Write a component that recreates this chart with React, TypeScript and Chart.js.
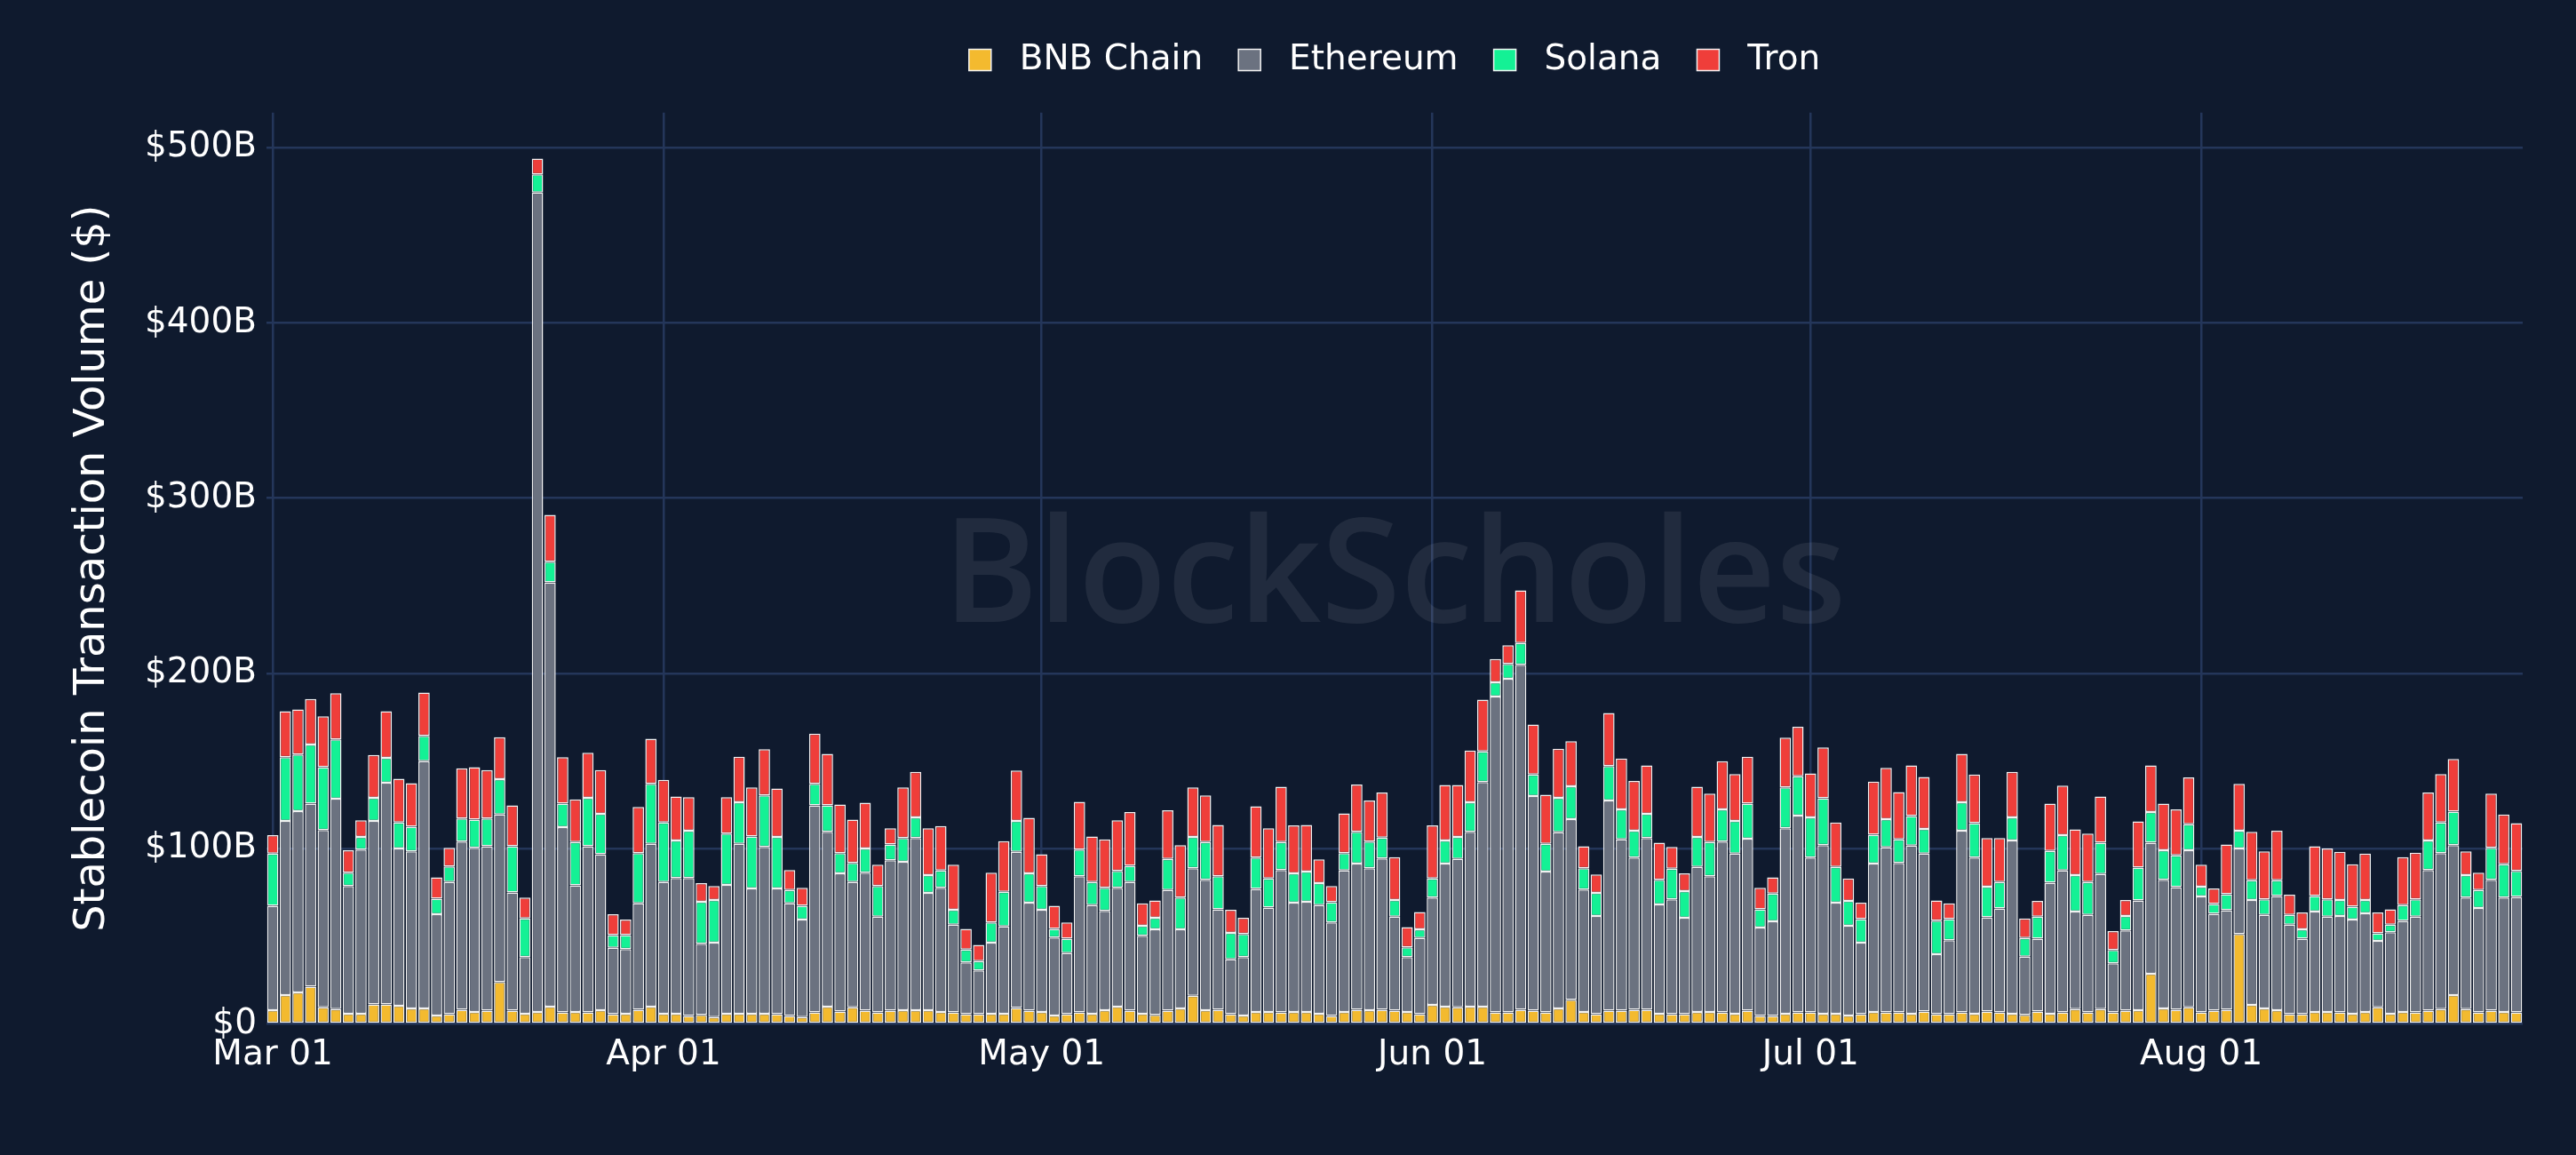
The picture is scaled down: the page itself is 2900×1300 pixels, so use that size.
import React, { useEffect, useRef } from 'react';
import { Chart, registerables } from 'chart.js';

Chart.register(...registerables);

// daily stablecoin transfer volume, $B, from Mar 01
const FIRST_DAY = Date.UTC(2025, 2, 1);
const MONTH_NAMES = ['Jan', 'Feb', 'Mar', 'Apr', 'May', 'Jun', 'Jul', 'Aug', 'Sep', 'Oct', 'Nov', 'Dec'];
const MONTH_TICKS = ['Mar 01', 'Apr 01', 'May 01', 'Jun 01', 'Jul 01', 'Aug 01'];
const Y_TICKS = [0, 100, 200, 300, 400, 500];

const bnb = [
  7.9, 16.5, 18.1, 21.4, 9.6, 8.6, 5.9, 5.9, 11.2, 11.2, 10.5, 8.9, 8.9, 4.9, 5.6, 8.2, 6.9, 7.6, 24.0, 7.6,
  5.9, 6.9, 9.9, 6.6, 6.9, 6.6, 7.9, 5.6, 5.9, 8.2, 9.9, 5.9, 5.9, 4.6, 5.3, 4.0, 5.9, 5.9, 5.9, 5.9,
  5.6, 4.6, 4.0, 6.6, 9.9, 7.2, 9.6, 7.6, 6.6, 7.6, 7.9, 7.9, 7.9, 6.9, 6.6, 5.6, 5.6, 5.9, 5.9, 9.2,
  7.6, 6.9, 4.9, 5.6, 6.6, 5.9, 7.9, 9.9, 7.6, 5.9, 5.3, 7.6, 8.9, 16.1, 7.9, 8.2, 5.6, 4.9, 6.9, 6.9,
  6.6, 6.9, 6.9, 5.9, 4.6, 6.9, 8.2, 7.9, 8.2, 7.6, 6.9, 5.6, 10.9, 9.9, 9.6, 9.9, 9.9, 6.6, 6.6, 8.2,
  7.6, 6.6, 8.9, 13.8, 6.9, 5.6, 7.6, 7.6, 8.2, 8.2, 5.9, 5.6, 5.6, 6.9, 6.9, 6.6, 5.9, 7.6, 4.6, 4.6,
  5.9, 6.6, 6.6, 5.9, 5.9, 4.9, 5.6, 6.9, 6.6, 6.6, 5.9, 7.2, 5.6, 5.6, 6.6, 5.9, 7.2, 6.6, 5.9, 5.3,
  7.2, 5.9, 6.6, 8.6, 6.6, 8.6, 6.6, 7.6, 7.9, 28.7, 8.9, 8.2, 9.6, 6.6, 7.6, 8.2, 51.4, 10.9, 8.9, 7.9,
  5.6, 5.6, 6.9, 6.9, 6.6, 5.9, 6.9, 9.6, 5.9, 6.9, 6.6, 7.6, 8.6, 16.5, 8.6, 6.6, 7.6, 6.9, 6.6,
];

const ethereum = [
  59.6, 99.4, 103.4, 104.4, 101.1, 119.9, 72.8, 93.6, 104.7, 126.5, 89.6, 89.6, 141.0, 57.7, 75.4, 95.9, 93.6, 93.8, 95.6, 67.5,
  32.3, 467.4, 242.1, 105.7, 72.2, 94.8, 88.9, 37.9, 36.9, 60.6, 92.9, 75.1, 77.4, 78.7, 40.5, 42.4, 73.5, 96.9, 71.5, 95.2,
  71.8, 64.2, 55.6, 118.2, 99.8, 78.8, 71.4, 78.7, 54.7, 85.9, 84.7, 98.2, 66.9, 70.8, 50.1, 29.6, 25.0, 40.5, 49.8, 89.0,
  61.6, 58.3, 44.5, 34.9, 77.7, 62.0, 56.7, 67.8, 73.4, 44.5, 48.7, 68.8, 45.1, 72.8, 74.4, 57.3, 31.3, 33.3, 70.2, 59.6,
  81.3, 62.3, 62.9, 62.0, 53.4, 80.7, 83.4, 81.0, 86.3, 53.7, 31.3, 43.5, 61.2, 81.7, 84.6, 99.8, 128.1, 180.2, 190.4, 196.7,
  122.5, 80.4, 100.5, 103.1, 69.8, 56.0, 119.9, 97.8, 86.7, 97.9, 62.3, 65.5, 55.0, 82.7, 77.4, 97.5, 91.3, 98.1, 50.4, 54.0,
  105.8, 112.3, 88.3, 96.2, 63.3, 51.1, 40.8, 84.7, 94.2, 85.3, 95.9, 90.0, 34.3, 42.2, 103.7, 89.0, 53.7, 59.3, 98.8, 33.2,
  41.5, 74.8, 81.0, 55.6, 55.7, 77.0, 28.0, 45.8, 62.6, 74.7, 73.4, 69.9, 89.5, 66.2, 55.3, 56.7, 48.7, 59.9, 53.4, 65.2,
  51.1, 43.1, 57.3, 54.4, 55.0, 53.7, 56.3, 37.8, 46.5, 52.0, 54.7, 80.3, 88.9, 85.6, 63.5, 59.6, 74.7, 65.2, 65.9,
];

const solana = [
  29.7, 36.3, 32.3, 33.6, 35.9, 33.9, 7.6, 7.2, 13.2, 14.1, 14.9, 14.1, 14.5, 8.9, 8.9, 13.2, 16.1, 15.9, 20.1, 26.3,
  22.1, 10.5, 11.8, 13.5, 24.7, 27.7, 23.1, 7.2, 7.9, 28.7, 34.2, 34.0, 21.4, 27.0, 24.0, 24.4, 29.3, 23.7, 29.6, 29.3,
  29.3, 7.6, 7.9, 12.2, 15.1, 11.5, 10.9, 13.8, 17.4, 8.9, 13.5, 11.8, 10.2, 9.9, 8.5, 7.3, 5.3, 11.6, 19.7, 17.7,
  16.8, 13.5, 4.9, 8.2, 15.2, 13.1, 13.1, 9.6, 9.3, 5.6, 6.6, 17.8, 18.1, 17.8, 21.5, 18.8, 15.1, 13.2, 17.8, 16.5,
  15.9, 16.8, 17.2, 12.5, 11.5, 9.9, 18.1, 15.2, 11.9, 9.5, 5.6, 4.9, 10.9, 13.1, 12.5, 16.8, 17.5, 8.2, 8.5, 12.5,
  12.2, 15.8, 19.7, 18.8, 12.2, 13.2, 19.7, 17.1, 15.4, 13.8, 14.1, 17.5, 15.2, 17.1, 19.5, 18.4, 18.7, 20.1, 10.5, 15.8,
  23.3, 22.4, 23.0, 26.7, 20.4, 14.2, 13.5, 16.4, 16.1, 13.5, 16.8, 14.1, 19.1, 12.1, 16.2, 19.7, 17.5, 15.1, 13.2, 10.6,
  12.6, 18.1, 20.1, 20.8, 18.7, 17.8, 7.6, 8.2, 18.8, 17.5, 16.8, 18.1, 14.9, 5.6, 5.6, 9.2, 10.2, 11.2, 8.8, 8.9,
  5.6, 5.3, 8.9, 9.8, 9.2, 7.3, 7.6, 4.3, 4.3, 9.0, 9.8, 16.8, 17.5, 19.1, 12.9, 10.2, 18.2, 19.1, 14.8,
];

const tron = [
  10.5, 26.3, 25.7, 26.0, 29.0, 26.3, 12.8, 9.6, 24.4, 26.7, 25.0, 24.8, 24.7, 12.2, 10.6, 28.6, 30.0, 27.6, 24.0, 23.4,
  11.8, 8.9, 26.7, 26.4, 24.3, 25.7, 25.0, 11.9, 8.9, 26.3, 25.7, 24.3, 25.1, 19.1, 10.6, 7.9, 20.7, 26.0, 28.0, 26.4,
  27.7, 11.5, 10.2, 28.7, 29.4, 27.7, 24.7, 26.1, 12.2, 9.3, 28.9, 26.0, 26.7, 25.4, 25.7, 11.8, 9.2, 28.3, 29.0, 28.7,
  31.6, 18.1, 13.2, 9.3, 27.3, 26.0, 27.7, 29.0, 30.6, 12.8, 9.9, 27.7, 30.0, 28.3, 26.6, 29.3, 13.2, 9.2, 29.3, 28.7,
  31.6, 27.3, 26.6, 13.5, 9.2, 22.7, 27.0, 23.4, 25.7, 24.4, 11.5, 9.9, 30.3, 31.7, 29.7, 29.6, 29.6, 13.2, 10.6, 30.0,
  28.6, 28.0, 28.0, 25.7, 12.5, 10.5, 30.3, 29.0, 28.4, 27.7, 21.1, 12.5, 10.2, 28.7, 27.6, 27.4, 26.7, 26.7, 12.2, 9.3,
  28.4, 28.3, 25.1, 29.0, 25.4, 12.8, 9.3, 30.3, 29.3, 27.0, 29.0, 29.7, 11.5, 8.9, 27.7, 27.7, 27.7, 25.1, 26.0, 11.2,
  8.9, 27.0, 28.3, 26.0, 27.7, 26.4, 10.8, 9.2, 26.3, 26.7, 26.7, 26.3, 26.7, 12.5, 8.9, 28.3, 26.7, 27.7, 27.4, 28.3,
  11.5, 9.6, 28.3, 29.0, 27.4, 24.3, 26.4, 11.9, 8.8, 27.3, 26.7, 27.4, 27.6, 30.0, 13.5, 9.9, 30.9, 28.4, 27.3,
];

const SERIES = [
  { name: 'BNB Chain', color: '#F3BA2F', values: bnb },
  { name: 'Ethereum', color: '#6B7280', values: ethereum },
  { name: 'Solana', color: '#14F195', values: solana },
  { name: 'Tron', color: '#EF3E3A', values: tron },
];

const days = bnb.map((_, i) => {
  const d = new Date(FIRST_DAY + i * 86400000);
  return `${MONTH_NAMES[d.getUTCMonth()]} ${String(d.getUTCDate()).padStart(2, '0')}`;
});

const BG = '#0f1a2e';
const GRID = '#24365a';
const FONT = 'DejaVu Sans';

const background = {
  id: 'background',
  beforeDraw(chart: Chart) {
    const { ctx, width, height } = chart;
    ctx.save();
    ctx.fillStyle = BG;
    ctx.fillRect(0, 0, width, height);
    ctx.restore();
  },
};

const watermark = {
  id: 'watermark',
  beforeDatasetsDraw(chart: Chart) {
    const { ctx, chartArea } = chart;
    ctx.save();
    ctx.font = '600 170px "Open Sans"';
    const size = (170 * 1017) / ctx.measureText('BlockScholes').width;
    ctx.font = `600 ${size}px "Open Sans"`;
    ctx.fillStyle = 'rgba(255,255,255,0.08)';
    ctx.textAlign = 'center';
    ctx.textBaseline = 'alphabetic';
    ctx.fillText('BlockScholes', (chartArea.left + chartArea.right) / 2, 700);
    ctx.restore();
  },
};

const StablecoinChart: React.FC = () => {
  const chartRef = useRef<HTMLCanvasElement | null>(null);

  useEffect(() => {
    document.body.style.margin = '0';
    document.body.style.overflow = 'hidden';
    if (!chartRef.current) return;
    const ctx = chartRef.current.getContext('2d');
    if (!ctx) return;

    const chart = new Chart(ctx, {
      type: 'bar',
      data: {
        labels: days,
        datasets: SERIES.map((s) => ({
          label: s.name,
          data: s.values,
          backgroundColor: s.color,
          borderColor: '#f2f2f2',
          borderWidth: 1.5,
          borderSkipped: false,
          categoryPercentage: 1,
          barPercentage: 0.9,
        })),
      },
      options: {
        responsive: false,
        animation: false,
        devicePixelRatio: 1,
        layout: { padding: { top: 8, right: 60, bottom: 67.4, left: 0 } },
        plugins: {
          legend: {
            position: 'top',
            fullSize: false,
            labels: {
              color: '#ffffff',
              font: { family: FONT, size: 39 },
              boxWidth: 25,
              boxHeight: 24,
              padding: 40,
              generateLabels: (c: Chart) =>
                Chart.defaults.plugins.legend.labels
                  .generateLabels(c)
                  .map((l: any) => ({ ...l, text: ' ' + l.text })),
            },
          },
          title: {
            display: true,
            text: '',
            weight: 500,
            font: { size: 1, lineHeight: 1 },
            padding: { top: 28.7, bottom: 0 },
          } as any,
          tooltip: { enabled: false },
        },
        scales: {
          x: {
            stacked: true,
            border: { display: false },
            grid: {
              offset: false,
              drawTicks: false,
              lineWidth: 2.5,
              color: (c: any) => (MONTH_TICKS.includes(days[c.index]) ? GRID : 'transparent'),
            },
            ticks: {
              autoSkip: false,
              maxRotation: 0,
              minRotation: 0,
              color: '#ffffff',
              padding: 12,
              font: { family: FONT, size: 39 },
              callback: (_v: any, i: number) => (MONTH_TICKS.includes(days[i]) ? days[i] : ''),
            },
            afterFit: (s: any) => {
              s.height = 80;
            },
          },
          y: {
            stacked: true,
            min: 0,
            max: 520,
            border: { display: false },
            afterBuildTicks: (s: any) => {
              s.ticks = Y_TICKS.map((value) => ({ value }));
            },
            grid: { color: GRID, lineWidth: 2.5, drawTicks: false },
            ticks: {
              color: '#ffffff',
              padding: 11,
              font: { family: FONT, size: 39 },
              callback: (v: any) => (v === 0 ? '$0' : `$${v}B`),
            },
            title: {
              display: true,
              text: 'Stablecoin Transaction Volume ($)',
              color: '#ffffff',
              font: { family: FONT, size: 48 },
              padding: { top: 76, bottom: 0 },
            },
            afterFit: (s: any) => {
              s.width = 300;
            },
          },
        },
      },
      plugins: [background, watermark],
    });

    return () => chart.destroy();
  }, []);

  return <canvas ref={chartRef} width={2900} height={1300} style={{ display: 'block' }} />;
};

export default function App() {
  return <StablecoinChart />;
}
